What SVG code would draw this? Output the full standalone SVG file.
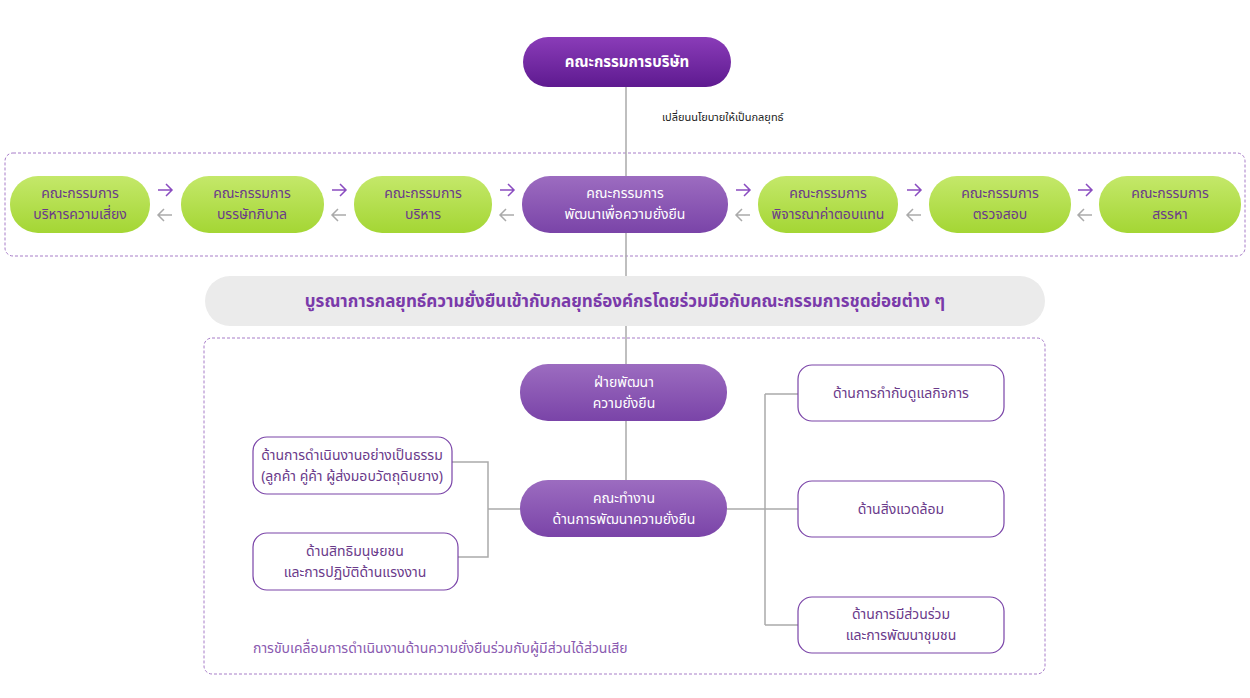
<svg xmlns="http://www.w3.org/2000/svg" width="1250" height="698" viewBox="0 0 1250 698">
<defs>
<linearGradient id="gp" x1="0" y1="0" x2="0" y2="1"><stop offset="0" stop-color="#9c6cc0"/><stop offset="1" stop-color="#7a44a8"/></linearGradient>
<linearGradient id="gg" x1="0" y1="0" x2="0" y2="1"><stop offset="0" stop-color="#c4e86a"/><stop offset="1" stop-color="#a4d634"/></linearGradient>
<linearGradient id="gd" x1="0" y1="0" x2="0" y2="1"><stop offset="0" stop-color="#8a3cb8"/><stop offset="1" stop-color="#5e1a90"/></linearGradient>
</defs>
<style>
text{font-family:"Noto Sans","Noto Sans Thai","DejaVu Sans",sans-serif;text-anchor:middle}
.g rect{fill:url(#gg)}
.g text{fill:#6a3a8a;font-size:14px}
.p rect{fill:url(#gp)}
.p text{fill:#fff;font-size:14px}
.w rect{fill:#fff;stroke:#7a44a8;stroke-width:1.2}
.w text{fill:#6a3a8a;font-size:14px}
.ln{stroke:#aaa;stroke-width:1.5;fill:none}
.ar{stroke:#8a4cc0;stroke-width:1.5;fill:none}
.al{stroke:#aaa;stroke-width:1.5;fill:none}
.dash{fill:none;stroke:#a77cc8;stroke-width:1;stroke-dasharray:3 2}
</style>
<rect class="dash" x="5" y="153" width="1240" height="103" rx="8"/>
<rect class="dash" x="204" y="338" width="841" height="336" rx="8"/>
<g id="connectors">
<path class="ln" d="M626 87V509"/>
<path class="ln" d="M452 462H488V557H458M488 509H520M727 509H765M765 394V625M765 394H798M765 509H798M765 625H798"/>
<g id="arrows">
<path class="ar" d="M158 190H172M166 184L172 190L166 196"/><path class="al" d="M172 215H158M164 209L158 215L164 221"/>
<path class="ar" d="M332 190H346M340 184L346 190L340 196"/><path class="al" d="M346 215H332M338 209L332 215L338 221"/>
<path class="ar" d="M500 190H514M508 184L514 190L508 196"/><path class="al" d="M514 215H500M506 209L500 215L506 221"/>
<path class="ar" d="M736 190H750M744 184L750 190L744 196"/><path class="al" d="M750 215H736M742 209L736 215L742 221"/>
<path class="ar" d="M907 190H921M915 184L921 190L915 196"/><path class="al" d="M921 215H907M913 209L907 215L913 221"/>
<path class="ar" d="M1078 190H1092M1086 184L1092 190L1086 196"/><path class="al" d="M1092 215H1078M1084 209L1078 215L1084 221"/>
</g>
</g>
<g id="board"><rect x="523" y="37" width="208" height="50" rx="25" fill="url(#gd)"/><text x="627" y="67" fill="#fff" font-size="15" font-weight="bold">คณะกรรมการบริษัท</text></g>
<text x="662" y="121" style="text-anchor:start" font-size="11" fill="#222">เปลี่ยนนโยบายให้เป็นกลยุทธ์</text>
<g id="n1" class="g"><rect x="10" y="176" width="140" height="57" rx="28"/><text x="80" y="198">คณะกรรมการ</text><text x="80" y="219">บริหารความเสี่ยง</text></g>
<g id="n2" class="g"><rect x="181" y="176" width="143" height="57" rx="28"/><text x="252" y="198">คณะกรรมการ</text><text x="252" y="219">บรรษัทภิบาล</text></g>
<g id="n3" class="g"><rect x="354" y="176" width="138" height="57" rx="28"/><text x="423" y="198">คณะกรรมการ</text><text x="423" y="219">บริหาร</text></g>
<g id="n4" class="p"><rect x="522" y="176" width="206" height="57" rx="28"/><text x="625" y="198">คณะกรรมการ</text><text x="625" y="219">พัฒนาเพื่อความยั่งยืน</text></g>
<g id="n5" class="g"><rect x="758" y="176" width="140" height="57" rx="28"/><text x="828" y="198">คณะกรรมการ</text><text x="828" y="219">พิจารณาค่าตอบแทน</text></g>
<g id="n6" class="g"><rect x="929" y="176" width="142" height="57" rx="28"/><text x="1000" y="198">คณะกรรมการ</text><text x="1000" y="219">ตรวจสอบ</text></g>
<g id="n7" class="g"><rect x="1099" y="176" width="142" height="57" rx="28"/><text x="1170" y="198">คณะกรรมการ</text><text x="1170" y="219">สรรหา</text></g>
<g id="banner"><rect x="205" y="276" width="840" height="50" rx="25" fill="#ebebeb"/><text x="625" y="307" fill="#7a3aaa" font-size="17" font-weight="bold">บูรณาการกลยุทธ์ความยั่งยืนเข้ากับกลยุทธ์องค์กรโดยร่วมมือกับคณะกรรมการชุดย่อยต่าง ๆ</text></g>
<g id="dept" class="p"><rect x="520" y="364" width="207" height="57" rx="28"/><text x="624" y="387">ฝ่ายพัฒนา</text><text x="624" y="408">ความยั่งยืน</text></g>
<g id="wg" class="p"><rect x="520" y="480" width="207" height="57" rx="28"/><text x="624" y="503">คณะทำงาน</text><text x="624" y="524">ด้านการพัฒนาความยั่งยืน</text></g>
<g id="l1" class="w"><rect x="253" y="437" width="199" height="57" rx="14"/><text x="352" y="460">ด้านการดำเนินงานอย่างเป็นธรรม</text><text x="352" y="481">(ลูกค้า คู่ค้า ผู้ส่งมอบวัตถุดิบยาง)</text></g>
<g id="l2" class="w"><rect x="253" y="533" width="205" height="57" rx="14"/><text x="355" y="556">ด้านสิทธิมนุษยชน</text><text x="355" y="577">และการปฏิบัติด้านแรงงาน</text></g>
<g id="r1" class="w"><rect x="798" y="365" width="206" height="56" rx="14"/><text x="901" y="398">ด้านการกำกับดูแลกิจการ</text></g>
<g id="r2" class="w"><rect x="798" y="481" width="206" height="56" rx="14"/><text x="901" y="514">ด้านสิ่งแวดล้อม</text></g>
<g id="r3" class="w"><rect x="798" y="597" width="206" height="56" rx="14"/><text x="901" y="619">ด้านการมีส่วนร่วม</text><text x="901" y="640">และการพัฒนาชุมชน</text></g>
<text x="253" y="653" style="text-anchor:start" font-size="14" fill="#8a5ab0">การขับเคลื่อนการดำเนินงานด้านความยั่งยืนร่วมกับผู้มีส่วนได้ส่วนเสีย</text>
</svg>
